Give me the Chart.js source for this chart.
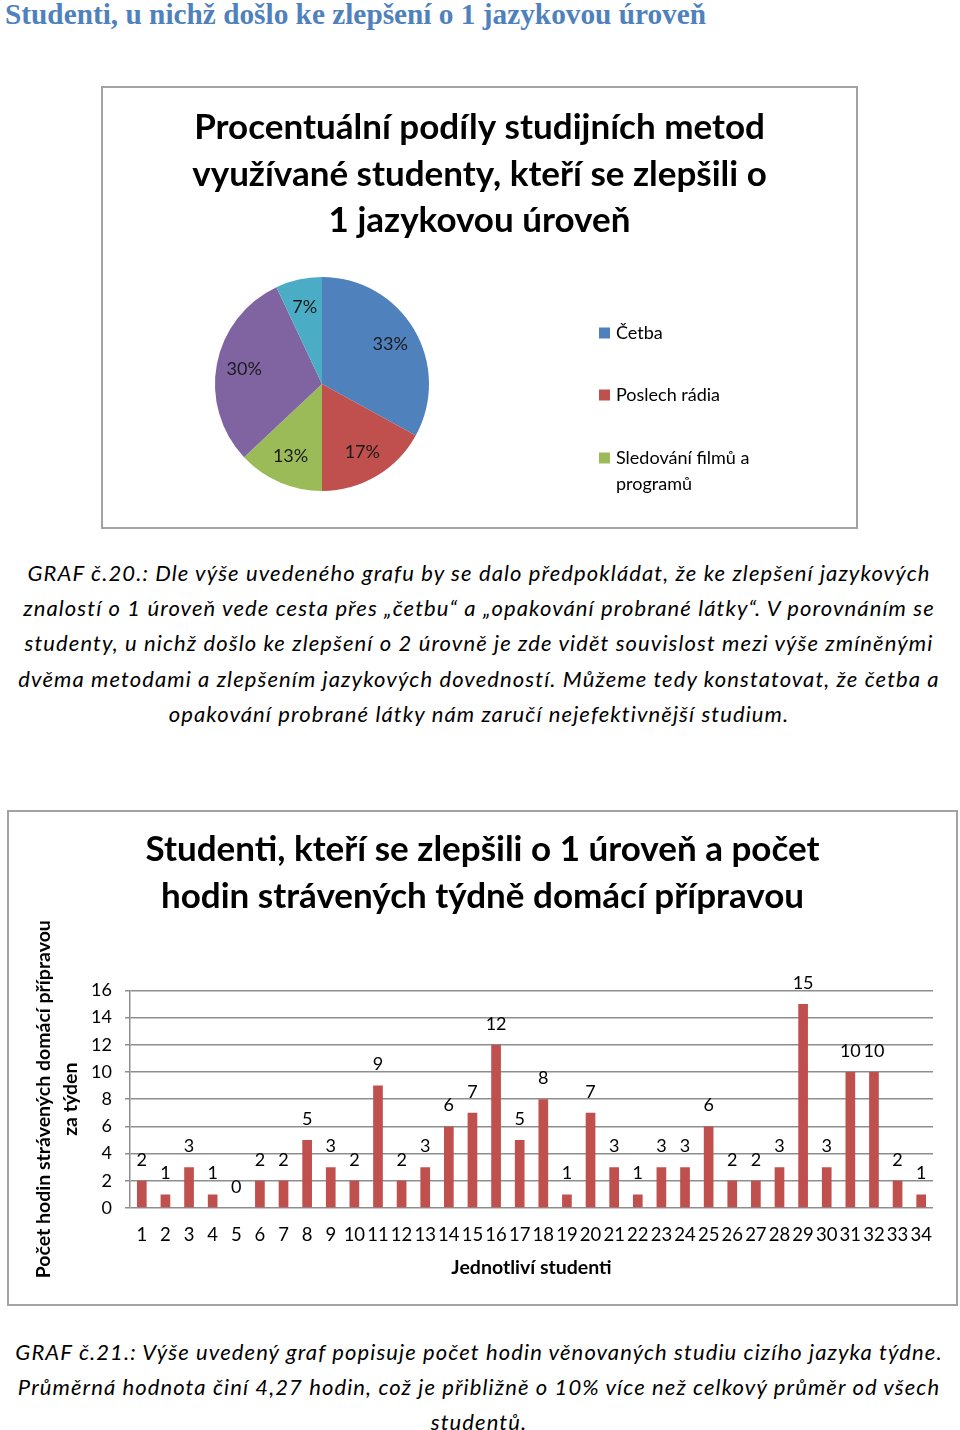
<!DOCTYPE html>
<html><head><meta charset="utf-8">
<script src="https://cdn.jsdelivr.net/npm/chart.js@4.4.1/dist/chart.umd.min.js"></script>
<style>
html,body{margin:0;padding:0;background:#fff;}
body{width:960px;height:1430px;position:relative;overflow:hidden;font-family:Lato,sans-serif;color:#000;}
#heading{position:absolute;left:5px;top:-1px;font-family:'Liberation Serif',serif;font-weight:bold;font-size:29.3px;color:#4F81BD;white-space:nowrap;line-height:30px;}
.box{position:absolute;border:2px solid #A3A3A3;background:#fff;}
#pieBox{left:101px;top:86px;width:753px;height:439px;}
#barBox{left:7px;top:810px;width:947px;height:492px;}
canvas{display:block;}
.cap{position:absolute;left:0;width:958px;text-align:center;font-style:italic;font-size:22px;letter-spacing:1.1px;line-height:35.2px;white-space:nowrap;font-family:Lato,sans-serif;}
#cap1{top:555px;}
#cap2{top:1334px;}
</style></head>
<body>
<div id="heading">Studenti, u nichž došlo ke zlepšení o 1 jazykovou úroveň</div>
<div class="box" id="pieBox"><canvas id="pie" width="753" height="439"></canvas></div>
<div class="cap" id="cap1">GRAF č.20.: Dle výše uvedeného grafu by se dalo předpokládat, že ke zlepšení jazykových<br>znalostí o 1 úroveň vede cesta přes „četbu“ a „opakování probrané látky“. V porovnáním se<br>studenty, u nichž došlo ke zlepšení o 2 úrovně je zde vidět souvislost mezi výše zmíněnými<br>dvěma metodami a zlepšením jazykových dovedností. Můžeme tedy konstatovat, že četba a<br>opakování probrané látky nám zaručí nejefektivnější studium.</div>
<div class="box" id="barBox"><canvas id="bar" width="947" height="492"></canvas></div>
<div class="cap" id="cap2">GRAF č.21.: Výše uvedený graf popisuje počet hodin věnovaných studiu cizího jazyka týdne.<br>Průměrná hodnota činí 4,27 hodin, což je přibližně o 10% více než celkový průměr od všech<br>studentů.</div>
<script>
// ---- data ----
const pieTitle = ['Procentuální podíly studijních metod', 'využívané studenty, kteří se zlepšili o', '1 jazykovou úroveň'];
const pieCategories = ['Četba', 'Poslech rádia', 'Sledování filmů a programů', 'Opakování probrané látky', 'Jiné'];
const pieValues = [33, 17, 13, 30, 7];
const pieColors = ['#4F81BD', '#C0504D', '#9BBB59', '#8064A2', '#4BACC6'];

const barTitle = ['Studenti, kteří se zlepšili o 1 úroveň a počet', 'hodin strávených týdně domácí přípravou'];
const students = ['1','2','3','4','5','6','7','8','9','10','11','12','13','14','15','16','17','18','19','20','21','22','23','24','25','26','27','28','29','30','31','32','33','34'];
const hours = [2, 1, 3, 1, 0, 2, 2, 5, 3, 2, 9, 2, 3, 6, 7, 12, 5, 8, 1, 7, 3, 1, 3, 3, 6, 2, 2, 3, 15, 3, 10, 10, 2, 1];
const hourTicks = [0, 2, 4, 6, 8, 10, 12, 14, 16];
const yAxisTitle = ['Počet hodin strávených domácí přípravou', 'za týden'];
const xAxisTitle = 'Jednotliví studenti';

Chart.defaults.font.family = 'Lato, sans-serif';
Chart.defaults.color = '#000';

// ---- pie ----
const pieArea = {
  id: 'pieArea',
  afterLayout(chart) {
    const a = chart.chartArea, cx = 219, cy = 296, r = 107;
    a.left = cx - r; a.right = cx + r; a.top = cy - r; a.bottom = cy + r; a.width = 2 * r; a.height = 2 * r;
  }
};
const pieLabels = {
  id: 'pieLabels',
  afterDatasetsDraw(chart) {
    const ctx = chart.ctx, meta = chart.getDatasetMeta(0);
    ctx.save();
    ctx.font = '18px Lato, sans-serif';
    ctx.fillStyle = '#1a1a1a';
    ctx.textAlign = 'center';
    ctx.textBaseline = 'middle';
    meta.data.forEach((arc, i) => {
      const p = arc.getProps(['x', 'y', 'startAngle', 'endAngle', 'outerRadius'], true);
      const m = (p.startAngle + p.endAngle) / 2, r = p.outerRadius * 0.74;
      ctx.fillText(pieValues[i] + '%', p.x + Math.cos(m) * r, p.y + Math.sin(m) * r);
    });
    // legend (only first three entries visible, as in the original)
    const lx = 496, ly = [245, 307, 370], lineH = 26, maxW = 185;
    ctx.textAlign = 'left';
    for (let i = 0; i < 3; i++) {
      ctx.fillStyle = pieColors[i];
      ctx.fillRect(lx, ly[i] - 5.5, 11, 11);
      ctx.fillStyle = '#000';
      const words = pieCategories[i].split(' ');
      const lines = []; let cur = '';
      words.forEach(w => {
        const t = cur ? cur + ' ' + w : w;
        if (ctx.measureText(t).width > maxW && cur) { lines.push(cur); cur = w; } else cur = t;
      });
      lines.push(cur);
      lines.forEach((ln, k) => ctx.fillText(ln, lx + 17, ly[i] + k * lineH));
    }
    ctx.restore();
  }
};
new Chart(document.getElementById('pie'), {
  type: 'pie',
  data: { labels: pieCategories, datasets: [{ data: pieValues, backgroundColor: pieColors, borderWidth: 0, clip: false }] },
  options: {
    responsive: false, animation: false, devicePixelRatio: 1,
    plugins: {
      legend: { display: false }, tooltip: { enabled: false },
      title: { display: true, text: pieTitle, color: '#000', font: { size: 35, weight: 'bold', lineHeight: 1.32 }, padding: { top: 17, bottom: 10 } }
    }
  },
  plugins: [pieArea, pieLabels]
});

// ---- bar ----
const barLabels = {
  id: 'barLabels',
  afterDatasetsDraw(chart) {
    const ctx = chart.ctx, meta = chart.getDatasetMeta(0);
    ctx.save();
    ctx.font = '18px Lato, sans-serif';
    ctx.fillStyle = '#000';
    ctx.textAlign = 'center';
    ctx.textBaseline = 'middle';
    meta.data.forEach((el, i) => ctx.fillText(String(hours[i]), el.x, el.y - 21));
    ctx.restore();
  }
};
new Chart(document.getElementById('bar'), {
  type: 'bar',
  data: { labels: students, datasets: [{ data: hours, backgroundColor: '#C0504D', categoryPercentage: 1, barPercentage: 0.41 }] },
  options: {
    responsive: false, animation: false, devicePixelRatio: 1,
    layout: { padding: { left: 23, right: 23, top: 0, bottom: 0 } },
    plugins: {
      legend: { display: false }, tooltip: { enabled: false },
      title: { display: true, text: barTitle, color: '#000', font: { size: 35, weight: 'bold', lineHeight: 1.32 }, padding: { top: 15, bottom: 71 } }
    },
    scales: {
      x: {
        grid: { display: false, drawTicks: false }, border: { display: false },
        ticks: { font: { size: 18.5 }, color: '#000', padding: 16, autoSkip: false, maxRotation: 0 },
        title: { display: true, text: xAxisTitle, color: '#000', font: { size: 19.5, weight: 'bold' }, padding: { top: 0, bottom: 25 } },
        afterFit(s) { s.height = 96; }
      },
      y: {
        min: 0, max: 16,
        afterBuildTicks(s) { s.ticks = hourTicks.map(v => ({ value: v })); },
        ticks: { font: { size: 18 }, color: '#000', padding: 13 },
        grid: { color: '#8E8E8E', lineWidth: 1.5, tickLength: 5 },
        border: { color: '#8E8E8E', width: 1.5 },
        title: { display: true, text: yAxisTitle, color: '#000', font: { size: 19.5, weight: 'bold', lineHeight: 1.4 }, padding: { top: -2, bottom: 0 } },
        afterFit(s) { s.width = 98; }
      }
    }
  },
  plugins: [barLabels]
});
</script>
</body></html>
